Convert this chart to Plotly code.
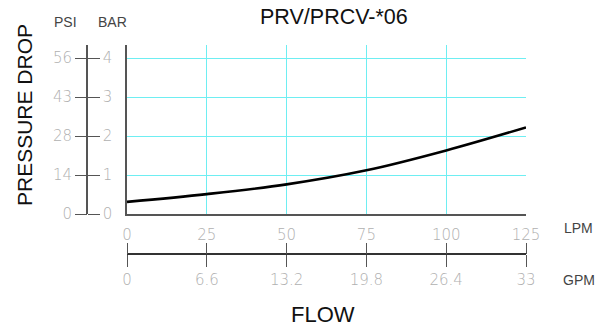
import plotly.graph_objects as go

# Data
flow_lpm = [0, 25, 50, 75, 100, 125]
pressure_bar = [0.31, 0.51, 0.76, 1.12, 1.63, 2.22]

lpm_ticks = [0, 25, 50, 75, 100, 125]
gpm_ticks = [0, 6.6, 13.2, 19.8, 26.4, 33]
gpm_labels = ["0", "6.6", "13.2", "19.8", "26.4", "33"]
bar_ticks = [0, 1, 2, 3, 4]
psi_labels = ["0", "14", "28", "43", "56"]

W, H = 597, 329
def px(x): return x / W
def py(y): return 1 - y / H

Y_MAX = (214 - 45) / 39.0
TICK_FONT = dict(family="DejaVu Sans", size=15, color="#b0b0b0", weight=200)
AX = "#555555"
GRID = "#6eeef2"

fig = go.Figure()
fig.add_trace(go.Scatter(x=flow_lpm, y=pressure_bar, mode="lines",
                         line=dict(color="black", width=2.6, shape="spline"),
                         showlegend=False, hoverinfo="skip"))
fig.add_trace(go.Scatter(x=[], y=[], xaxis="x2", yaxis="y", showlegend=False))
fig.add_trace(go.Scatter(x=[], y=[], xaxis="x3", yaxis="y", showlegend=False))
fig.add_trace(go.Scatter(x=[], y=[], xaxis="x", yaxis="y2", showlegend=False))
fig.add_trace(go.Scatter(x=[], y=[], xaxis="x", yaxis="y3", showlegend=False))

fig.update_layout(
    width=W, height=H, margin=dict(l=0, r=0, t=0, b=0, autoexpand=False),
    paper_bgcolor="white", plot_bgcolor="white", showlegend=False,
    xaxis=dict(domain=[px(127), px(526)], range=[0, 125], tickvals=lpm_ticks,
               showgrid=True, gridcolor=GRID, gridwidth=1.2,
               showline=True, linecolor=AX, linewidth=1.5,
               ticks="outside", ticklen=6, tickcolor="rgba(0,0,0,0)",
               tickfont=TICK_FONT, zeroline=False, fixedrange=True,
               automargin=False),
    yaxis=dict(domain=[py(214), py(45)], range=[0, Y_MAX], tickvals=bar_ticks,
               showgrid=True, gridcolor=GRID, gridwidth=1.2,
               showline=True, linecolor=AX, linewidth=1.5,
               showticklabels=False, zeroline=False, fixedrange=True,
               automargin=False),
    xaxis2=dict(overlaying="x", anchor="free", position=py(254), side="bottom",
                range=[0, 33], tickvals=gpm_ticks, ticktext=gpm_labels,
                showgrid=False, zeroline=False,
                showline=True, linecolor="#333333", linewidth=2,
                ticks="outside", ticklen=12, tickcolor=AX, tickwidth=1,
                tickfont=TICK_FONT, fixedrange=True, automargin=False),
    xaxis3=dict(overlaying="x", anchor="free", position=py(254), side="top",
                range=[0, 33], tickvals=gpm_ticks,
                showgrid=False, zeroline=False, showline=False,
                ticks="outside", ticklen=11, tickcolor=AX, tickwidth=1,
                showticklabels=False, fixedrange=True, automargin=False),
    yaxis2=dict(overlaying="y", anchor="free", position=px(87), side="right",
                range=[0, Y_MAX], tickvals=bar_ticks,
                showgrid=False, zeroline=False,
                showline=True, linecolor=AX, linewidth=1.5,
                ticks="outside", ticklen=12, tickcolor=AX, tickwidth=1,
                tickfont=TICK_FONT, fixedrange=True, automargin=False),
    yaxis3=dict(overlaying="y", anchor="free", position=px(87), side="left",
                range=[0, Y_MAX], tickvals=bar_ticks, ticktext=psi_labels,
                showgrid=False, zeroline=False, showline=False,
                ticks="outside", ticklen=12, tickcolor=AX, tickwidth=1,
                tickfont=TICK_FONT, fixedrange=True, automargin=False),
)

LBL = dict(family="Liberation Sans", size=14, color="#444444")
def note(text, x, y, font, **kw):
    fig.add_annotation(text=text, x=px(x), y=py(y), xref="paper", yref="paper",
                       showarrow=False, font=font, xanchor="center",
                       yanchor="middle", **kw)

note("PRV/PRCV-*06", 334, 17, dict(family="Liberation Sans", size=21.5, color="#111111"))
note("PSI", 65, 22, LBL)
note("BAR", 112, 22, LBL)
note("LPM", 578, 228, LBL)
note("GPM", 579, 280, LBL)
note("FLOW", 323, 314, dict(family="Liberation Sans", size=22, color="#111111"))
note("PRESSURE DROP", 24, 115, dict(family="Liberation Sans", size=21, color="#111111"),
     textangle=-90)

fig.write_html("out.html", config={"displayModeBar": False},
               post_script="document.body.style.margin='0';document.body.style.overflow='hidden';")
